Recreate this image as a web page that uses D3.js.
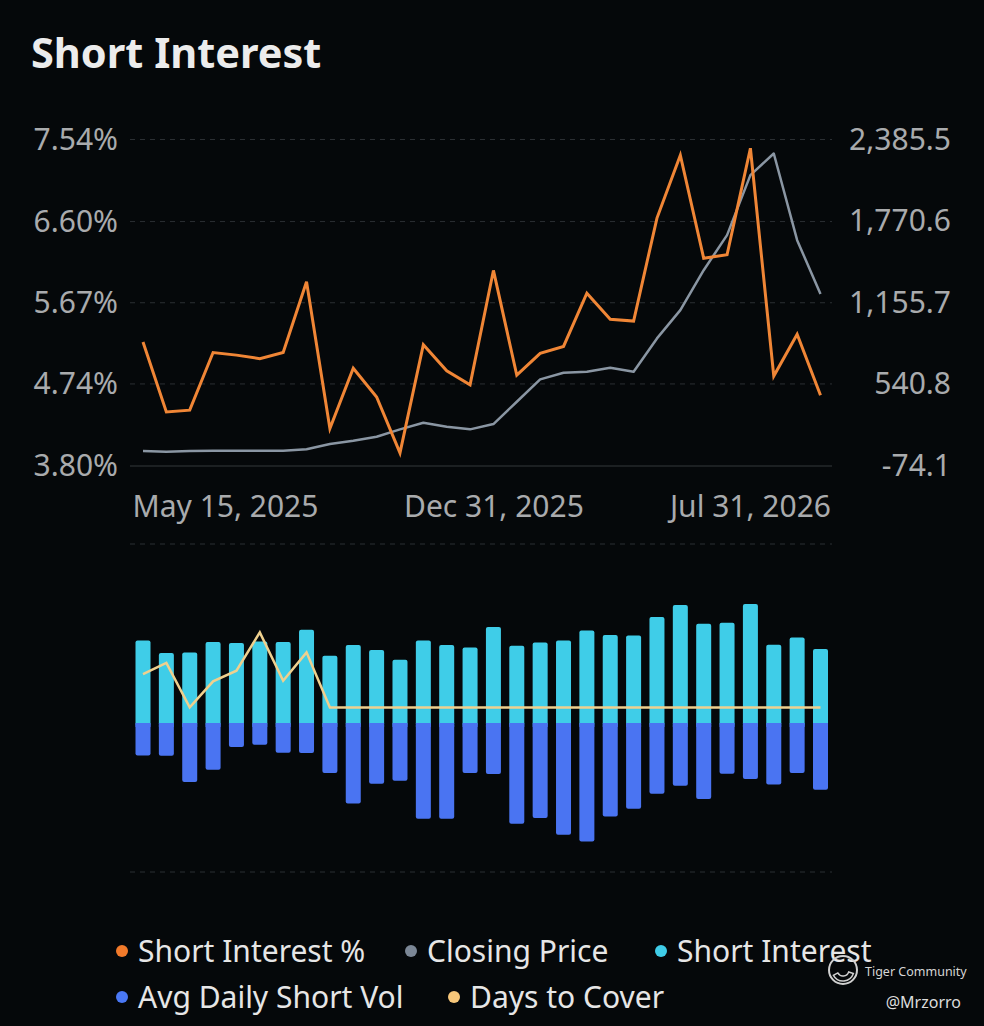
<!DOCTYPE html>
<html>
<head>
<meta charset="utf-8">
<script src="https://cdn.jsdelivr.net/npm/d3@7"></script>
<style>
  body { margin: 0; background: #05080a; }
  svg { display: block; font-family: "Noto Sans", sans-serif; }
</style>
</head>
<body>
<div id="chart"></div>
<script>
// semi-monthly report dates
const dates = [
  "2025-05-15", "2025-05-30", "2025-06-13", "2025-06-30", "2025-07-15", "2025-07-31",
  "2025-08-15", "2025-08-29", "2025-09-15", "2025-09-30", "2025-10-15", "2025-10-31",
  "2025-11-14", "2025-11-28", "2025-12-15", "2025-12-31", "2026-01-15", "2026-01-30",
  "2026-02-13", "2026-02-27", "2026-03-13", "2026-03-31", "2026-04-15", "2026-04-30",
  "2026-05-15", "2026-05-29", "2026-06-15", "2026-06-30", "2026-07-15", "2026-07-31"
];
const dateLabels = ["May 15, 2025", "Dec 31, 2025", "Jul 31, 2026"];
const labelIdx = [0, 15, 29];

// Short Interest % (left axis)
const shortPct = [5.22, 4.42, 4.44, 5.10, 5.07, 5.03, 5.10, 5.91, 4.23, 4.92,
                  4.59, 3.95, 5.19, 4.89, 4.73, 6.04, 4.84, 5.09, 5.17, 5.78,
                  5.48, 5.46, 6.64, 7.36, 6.18, 6.22, 7.44, 4.83, 5.31, 4.61];
// Closing price (right axis)
const closePrice = [38.8, 33.6, 39, 41, 41, 41, 41, 51.6, 91.5, 116,
                    146.5, 202, 252, 222, 202, 242, 410, 578.6, 628, 636,
                    666, 636, 887, 1100, 1401, 1665, 2117, 2280, 1627, 1221];
// Short interest (M shares) and avg daily short volume (M shares)
const shortInt = [8.26, 7.00, 7.06, 8.10, 8.00, 8.16, 8.10, 9.33, 6.73, 7.80,
                  7.30, 6.33, 8.26, 7.80, 7.56, 9.60, 7.73, 8.06, 8.26, 9.26,
                  8.80, 8.76, 10.60, 11.80, 9.93, 10.03, 11.90, 7.83, 8.56, 7.40];
const avgShortVol = [3.24, 3.27, 5.90, 4.67, 2.40, 2.17, 2.97, 3.00, 5.00, 8.04,
                     6.07, 5.77, 9.57, 9.57, 5.00, 5.10, 10.07, 9.50, 11.17, 11.84,
                     9.34, 8.57, 7.07, 6.27, 7.60, 5.07, 5.60, 6.14, 5.00, 6.67];
// Days to cover
const daysToCover = [3.14, 3.85, 1.00, 2.67, 3.35, 5.81, 2.71, 4.53, 1.00, 1.00,
                     1.00, 1.00, 1.00, 1.00, 1.00, 1.00, 1.00, 1.00, 1.00, 1.00,
                     1.00, 1.00, 1.00, 1.00, 1.00, 1.00, 1.00, 1.00, 1.00, 1.00];

const pctTicks = [3.80, 4.74, 5.67, 6.60, 7.54];
const priceTicks = [-74.1, 540.8, 1155.7, 1770.6, 2385.5];

const legendItems = [
  { name: "Short Interest %", color: "#f27a2a", x: 122, row: 0 },
  { name: "Closing Price", color: "#7b8796", x: 411, row: 0 },
  { name: "Short Interest", color: "#3fcde8", x: 661, row: 0 },
  { name: "Avg Daily Short Vol", color: "#4a78f5", x: 122, row: 1 },
  { name: "Days to Cover", color: "#f7c77a", x: 454, row: 1 }
];

const W = 984, H = 1026;
const plotL = 130, plotR = 832;

const locale = d3.formatLocale({ decimal: ".", thousands: ",", grouping: [3], currency: ["$", ""], minus: "-" });

const svg = d3.select("#chart").append("svg")
  .attr("width", W)
  .attr("height", H);

svg.append("rect").attr("width", W).attr("height", H).attr("fill", "#05080a");

svg.append("text")
  .attr("x", 31)
  .attr("y", 68)
  .text("Short Interest")
  .style("font-size", "41.5px")
  .style("font-weight", "bold")
  .style("fill", "#ececec");

const x = d3.scalePoint().domain(dates).range([143, 820.5]);

// ---------- top chart ----------
const yPct = d3.scaleLinear().domain([3.80, 7.54]).range([466, 139.5]);
const yPrice = d3.scaleLinear().domain([-74.1, 2385.5]).range([466, 139.5]);

const topG = svg.append("g");

topG.selectAll(".grid")
  .data(pctTicks.slice(1))
  .enter().append("line")
  .attr("x1", plotL).attr("x2", plotR)
  .attr("y1", d => yPct(d)).attr("y2", d => yPct(d))
  .style("stroke", "#2b2f33")
  .style("stroke-width", 1)
  .style("stroke-dasharray", "5,5");

topG.append("line")
  .attr("x1", plotL).attr("x2", plotR)
  .attr("y1", yPct(3.80)).attr("y2", yPct(3.80))
  .style("stroke", "#25282b")
  .style("stroke-width", 1.5);

const leftAxis = topG.append("g")
  .attr("transform", "translate(118,0)")
  .call(d3.axisLeft(yPct).tickValues(pctTicks).tickSize(0).tickPadding(0)
    .tickFormat(d => locale.format(".2f")(d) + "%"));

const rightAxis = topG.append("g")
  .attr("transform", "translate(951,0)")
  .call(d3.axisLeft(yPrice).tickValues(priceTicks).tickSize(0).tickPadding(0)
    .tickFormat(locale.format(",.1f")));

const bottomAxis = topG.append("g")
  .attr("transform", "translate(0,517)")
  .call(d3.axisBottom(x).tickValues(labelIdx.map(i => dates[i])).tickSize(0).tickPadding(0)
    .tickFormat((d, i) => dateLabels[i]));

bottomAxis.selectAll(".tick text")
  .attr("y", 0)
  .attr("dy", 0)
  .attr("x", (d, i) => i === 0 ? -11 : (i === 2 ? 10 : 0))
  .attr("text-anchor", (d, i) => i === 0 ? "start" : (i === 2 ? "end" : "middle"));

[leftAxis, rightAxis, bottomAxis].forEach(a => {
  a.select(".domain").remove();
  a.selectAll(".tick text")
    .style("font-size", "30px")
    .style("font-family", "'Noto Sans', sans-serif")
    .style("fill", "#a9abad");
});

topG.append("path")
  .datum(closePrice)
  .attr("fill", "none")
  .attr("stroke", "#8a96a3")
  .attr("stroke-width", 2.5)
  .attr("stroke-linejoin", "round")
  .attr("d", d3.line().x((d, i) => x(dates[i])).y(d => yPrice(d)));

topG.append("path")
  .datum(shortPct)
  .attr("fill", "none")
  .attr("stroke", "#f08636")
  .attr("stroke-width", 3)
  .attr("stroke-linejoin", "miter")
  .attr("d", d3.line().x((d, i) => x(dates[i])).y(d => yPct(d)));

// ---------- bottom chart ----------
const yBar = d3.scaleLinear().domain([-14.9, 17.9]).range([872, 544]);
const yDtc = d3.scaleLinear().domain([0, 10]).range([yBar(0), yBar(0) - 156]);
const barW = 15;
const base = yBar(0);

const botG = svg.append("g");

botG.selectAll(".grid2")
  .data([17.9, -14.9])
  .enter().append("line")
  .attr("x1", plotL).attr("x2", plotR)
  .attr("y1", d => yBar(d)).attr("y2", d => yBar(d))
  .style("stroke", "#2b2f33")
  .style("stroke-width", 1)
  .style("stroke-dasharray", "5,5");

botG.selectAll(".si")
  .data(shortInt)
  .enter().append("rect")
  .attr("class", "si")
  .attr("x", (d, i) => x(dates[i]) - barW / 2)
  .attr("y", d => yBar(d))
  .attr("width", barW)
  .attr("height", d => base - yBar(d) + 3)
  .attr("rx", 2)
  .attr("fill", "#3fcde8");

botG.selectAll(".asv")
  .data(avgShortVol)
  .enter().append("rect")
  .attr("class", "asv")
  .attr("x", (d, i) => x(dates[i]) - barW / 2)
  .attr("y", base)
  .attr("width", barW)
  .attr("height", d => yBar(-d) - base)
  .attr("rx", 2)
  .attr("fill", "#4a74f2");

botG.selectAll(".asvTop")
  .data(avgShortVol)
  .enter().append("rect")
  .attr("class", "asvTop")
  .attr("x", (d, i) => x(dates[i]) - barW / 2)
  .attr("y", base)
  .attr("width", barW)
  .attr("height", 4)
  .attr("fill", "#4a74f2");

botG.append("path")
  .datum(daysToCover)
  .attr("fill", "none")
  .attr("stroke", "#efd08e")
  .attr("stroke-width", 2.5)
  .attr("d", d3.line().x((d, i) => x(dates[i])).y(d => yDtc(d)));

// ---------- legend ----------
const leg = svg.append("g");
legendItems.forEach(item => {
  const cy = 951 + item.row * 46;
  leg.append("circle")
    .attr("cx", item.x)
    .attr("cy", cy)
    .attr("r", 6)
    .attr("fill", item.color);
  leg.append("text")
    .attr("x", item.x + 16)
    .attr("y", cy + 11)
    .text(item.name)
    .style("font-size", "30px")
    .style("fill", "#e6e6e6");
});

// ---------- watermark ----------
const wm = svg.append("g").attr("transform", "translate(843,970)");
wm.append("circle").attr("r", 14).attr("fill", "none").attr("stroke", "#d0d0d0").attr("stroke-width", 2);
wm.append("path")
  .attr("d", d3.arc()({ innerRadius: 6, outerRadius: 11, startAngle: 1.9, endAngle: 4.2 }))
  .attr("fill", "none").attr("stroke", "#d0d0d0").attr("stroke-width", 1.5);
svg.append("text").attr("x", 865).attr("y", 976).text("Tiger Community")
  .style("font-size", "12.5px").style("fill", "#d6d6d6");
svg.append("text").attr("x", 961).attr("y", 1008).attr("text-anchor", "end").text("@Mrzorro")
  .style("font-size", "16px").style("fill", "#dcdcdc");
</script>
</body>
</html>
